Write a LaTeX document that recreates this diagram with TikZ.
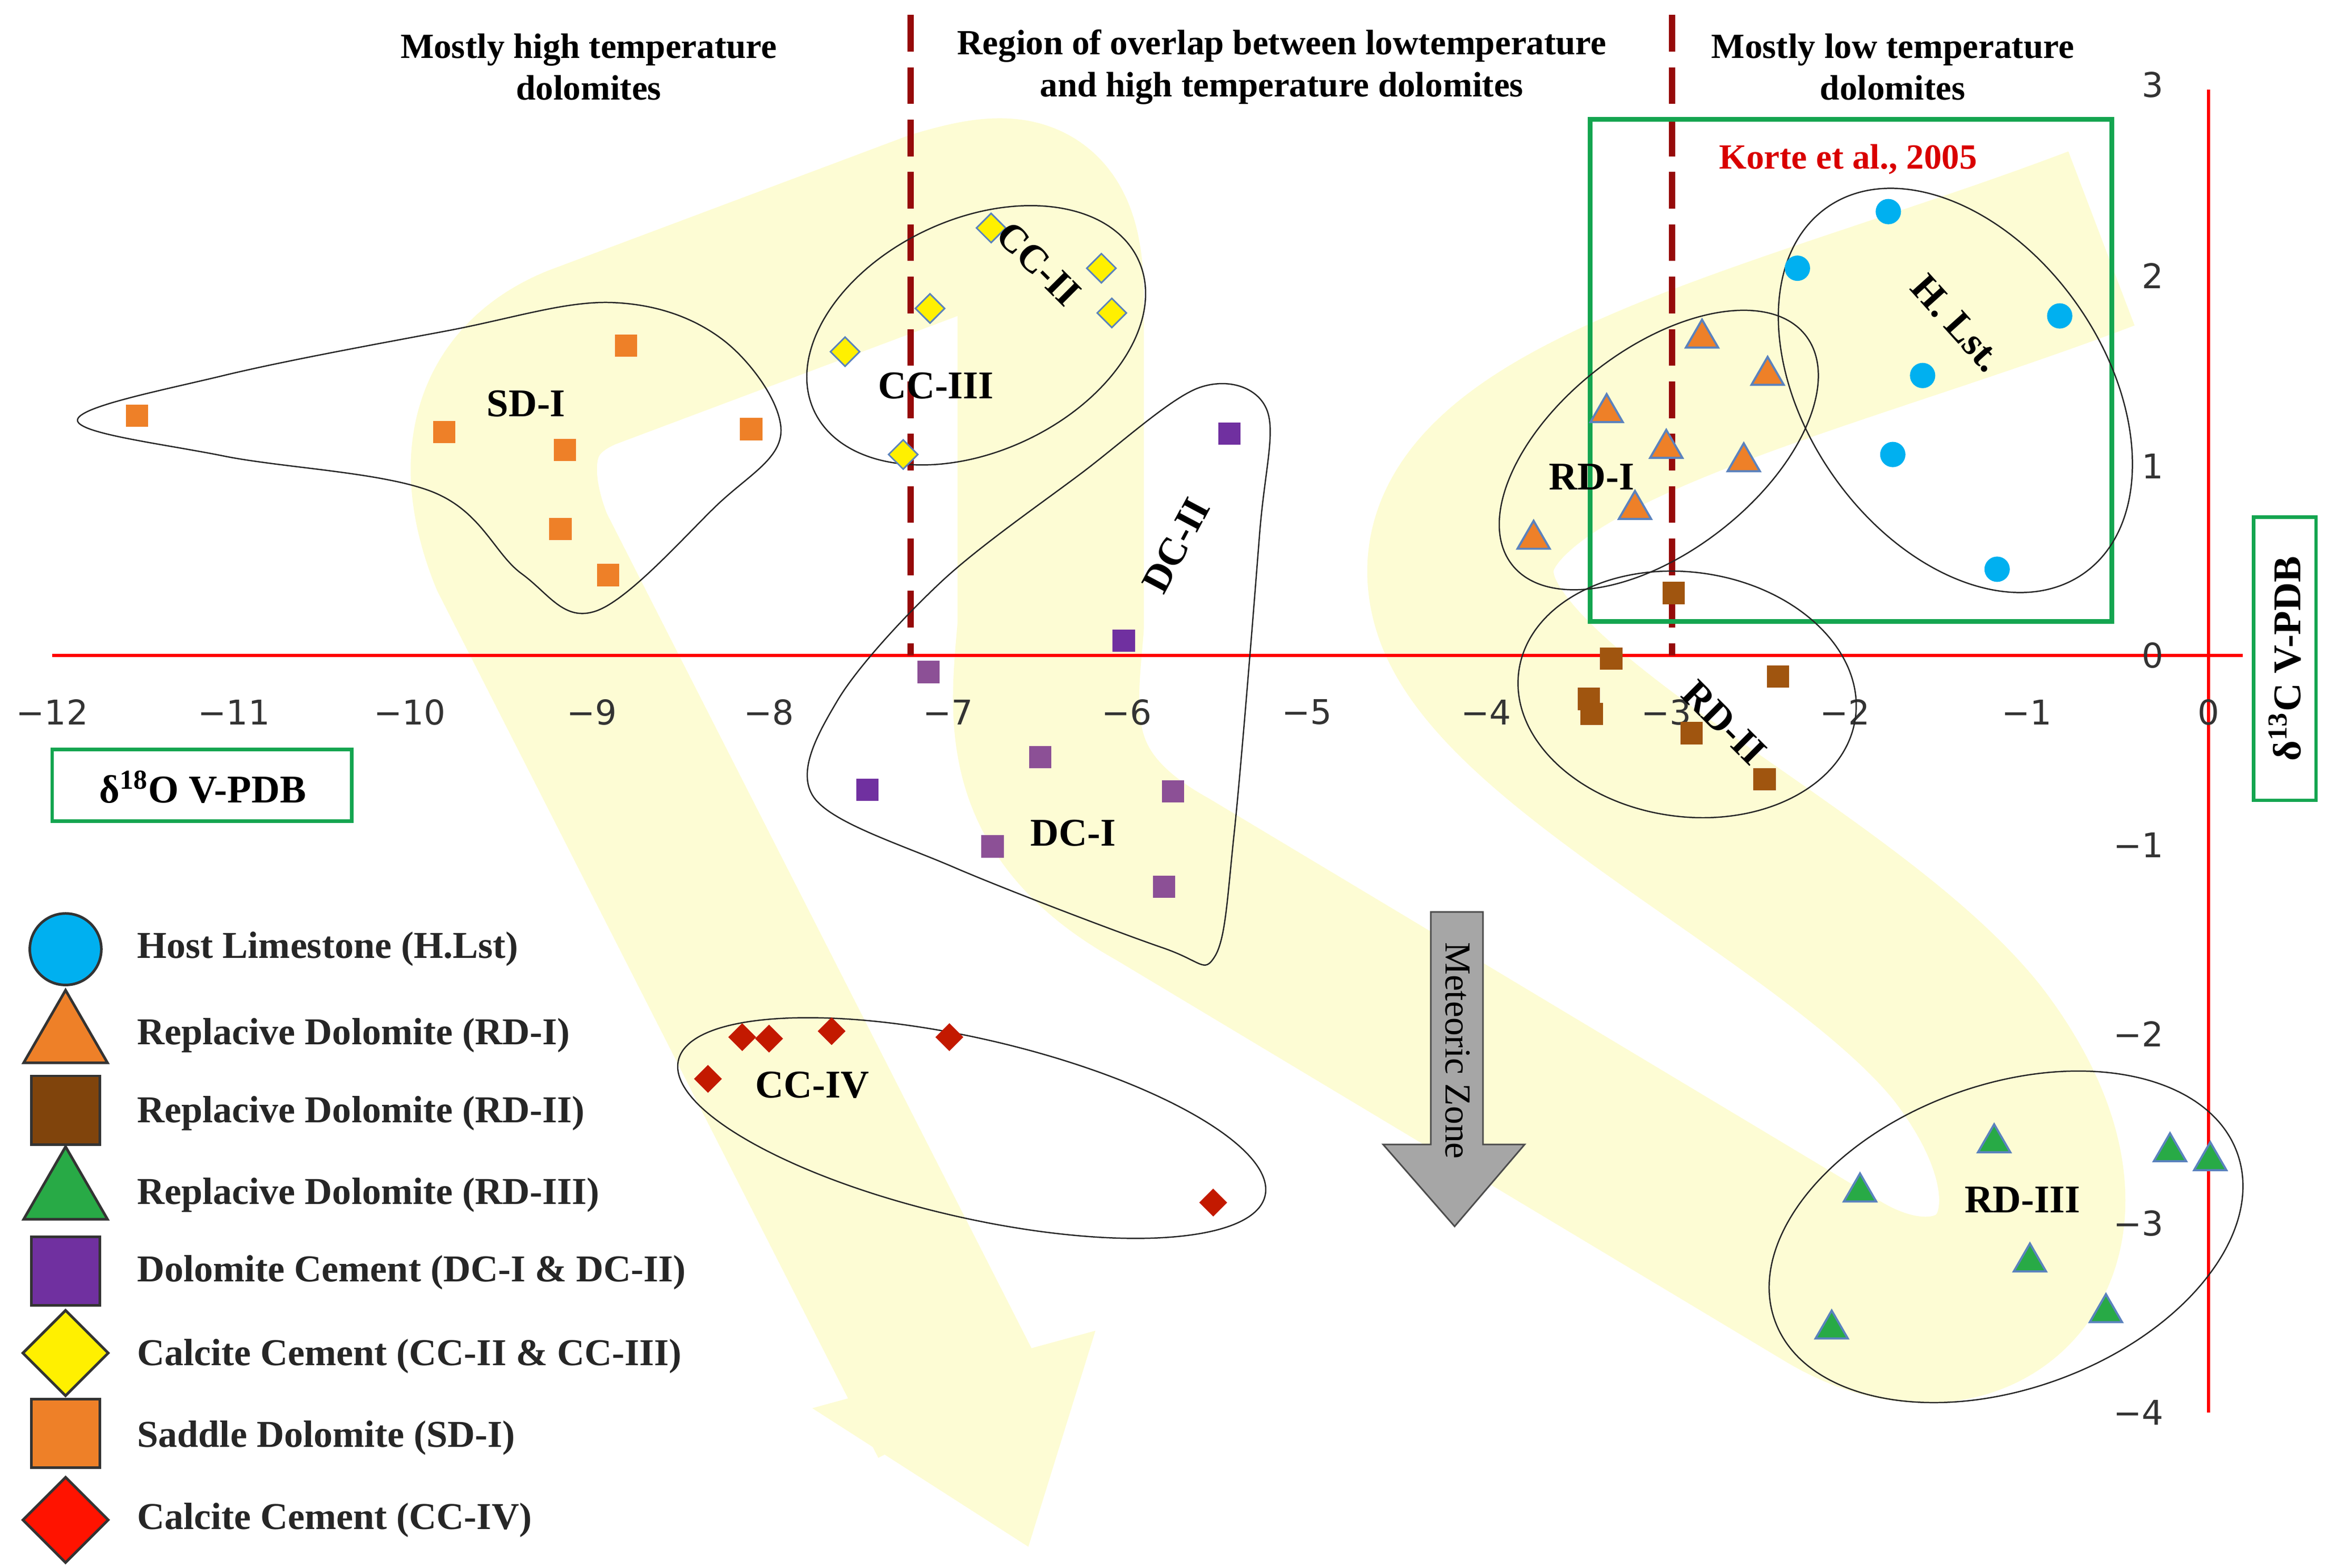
\documentclass[tikz,border=0pt]{standalone}
\usepackage{fontspec}
\setmainfont{Liberation Serif}
\newfontfamily\sansf{DejaVu Sans}
\usetikzlibrary{shapes.geometric}
\definecolor{band}{RGB}{253,252,212}
\definecolor{dred}{RGB}{150,10,10}
\definecolor{gbox}{RGB}{20,165,80}
\definecolor{orng}{RGB}{238,128,40}
\definecolor{ylw}{RGB}{255,240,0}
\definecolor{bdr}{RGB}{90,130,190}
\definecolor{purA}{RGB}{112,48,160}
\definecolor{purB}{RGB}{140,80,150}
\definecolor{brn}{RGB}{160,85,15}
\definecolor{redd}{RGB}{195,25,0}
\definecolor{blu}{RGB}{0,176,240}
\definecolor{grn}{RGB}{40,170,70}
\tikzset{
 sq/.style={rectangle,minimum size=0.3cm,inner sep=0,draw=none},
 dia/.style={diamond,minimum size=0.4cm,inner sep=0,fill=ylw,draw=bdr,line width=0.6pt},
 rdia/.style={diamond,minimum size=0.38cm,inner sep=0,fill=redd},
 tri/.style={regular polygon,regular polygon sides=3,minimum size=0.5cm,inner sep=0,draw=bdr,line width=0.8pt},
 circ/.style={circle,minimum size=0.34cm,inner sep=0,fill=blu},
 grp/.style={draw=black!85,line width=0.5pt},
 lab/.style={font=\fontsize{15}{15}\selectfont\bfseries},
 leg/.style={font=\fontsize{14.5}{15}\selectfont\bfseries,anchor=west,text=black!85},
 head/.style={font=\fontsize{13.5}{16}\selectfont\bfseries,align=center},
 tk/.style={font=\sansf\fontsize{13}{13}\selectfont,text=black!80},
}
\begin{document}
\begin{tikzpicture}[x=0.02cm,y=-0.02cm]
\useasboundingbox (0,0) rectangle (1560,1052);
% yellow serpentine band
\draw[band,line width=2.5cm,line join=round]
 (1410,160) .. controls (1200,240) and (940,290) .. (985,410)
 .. controls (1020,500) and (1240,600) .. (1320,700)
 .. controls (1420,830) and (1330,920) .. (1230,860)
 -- (780,590) .. controls (690,540) and (700,480) .. (705,420)
 -- (705,200) .. controls (705,135) and (680,135) .. (630,150)
 -- (390,240) .. controls (330,265) and (330,320) .. (350,370)
 -- (645,950);
\fill[band] (545,945) -- (735,893) -- (690,1038) -- cycle;
% axes
\draw[red,line width=1.2pt] (35,440) -- (1505,440);
\draw[red,line width=1.2pt] (1482,60) -- (1482,948);
\foreach \v/\xx in {−12/35,−11/157,−10/275,−9/397,−8/516,−7/636,−6/756,−5/877,−4/997,−3/1118,−2/1238,−1/1360,0/1482}
  \node[tk] (xt\xx) at (\xx,478) {\v};
\foreach \v/\yy in {3/57,2/185,1/313,0/440,−1/567,−2/694,−3/821,−4/948}
  \node[tk,anchor=east] (yt\yy) at (1458,\yy) {\v};
% dashed lines
\draw[dred,line width=2.4pt,dash pattern=on 14pt off 6pt] (611,10) -- (611,440);
\draw[dred,line width=2.4pt,dash pattern=on 14pt off 6pt] (1122,10) -- (1122,440);
% headers
\node[head] (h1) at (395,45) {Mostly high temperature\\dolomites};
\node[head] (h2) at (860,45) {Region of overlap between lowtemperature\\and high temperature dolomites};
\node[head] (h3) at (1270,45) {Mostly low temperature\\dolomites};
% boxes
\draw[gbox,line width=1.8pt] (1067,80) rectangle (1417,417);
\node[font=\fontsize{13.5}{14}\selectfont\bfseries,text=red!85!black] (korte) at (1240,107) {Korte et al., 2005};
\draw[gbox,line width=1.3pt] (1512,347) rectangle (1554,537);
\node[lab,rotate=90] (ylab) at (1533,442) {δ\textsuperscript{13}C V-PDB};
\draw[gbox,line width=1.3pt] (35,503) rectangle (236,551);
\node[lab] (xlab) at (136,528) {δ\textsuperscript{18}O V-PDB};
% group outlines
\draw[grp] plot[smooth cycle,tension=0.6] coordinates {(52,282) (150,252) (300,222) (410,203) (485,228) (524,290) (480,340) (400,410) (350,385) (290,330) (150,306)};
\draw[grp,rotate around={25:(655,225)}] (655,225) ellipse (120 and 78);
\draw[grp] plot[smooth cycle,tension=0.55] coordinates {(805,260) (850,275) (845,360) (828,560) (815,642) (780,636) (640,582) (546,535) (562,470) (632,390) (725,318)};
\draw[grp,rotate around={38:(1113,302)}] (1113,302) ellipse (125 and 68);
\draw[grp,rotate around={-55:(1312,262)}] (1312,262) ellipse (150 and 100);
\draw[grp,rotate around={-8:(1132,466)}] (1132,466) ellipse (114 and 82);
\draw[grp,rotate around={-13:(652,757)}] (652,757) ellipse (202 and 60);
\draw[grp,rotate around={20:(1346,830)}] (1346,830) ellipse (165 and 102);
% markers
\foreach \p [count=\i] in {(92,279),(298,290),(379,302),(420,232),(376,355),(408,386),(504,288)}
  \node[sq,fill=orng] (sd\i) at \p {};
\foreach \p [count=\i] in {(665,153),(739,180),(746,210),(624,207),(567,236),(606,305)}
  \node[dia] (cc\i) at \p {};
\foreach \p [count=\i] in {(825,291),(754,430),(582,530)}
  \node[sq,fill=purA] (dca\i) at \p {};
\foreach \p [count=\i] in {(623,451),(698,508),(787,531),(666,568),(781,595)}
  \node[sq,fill=purB] (dcb\i) at \p {};
\foreach \p [count=\i] in {(1142,227),(1186,252),(1078,277),(1118,301),(1170,310),(1097,342),(1029,362)}
  \node[tri,fill=orng] (rda\i) at \p {};
\foreach \p [count=\i] in {(1267,142),(1206,180),(1382,212),(1290,252),(1270,305),(1340,382)}
  \node[circ] (hl\i) at \p {};
\foreach \p [count=\i] in {(1123,398),(1081,442),(1066,469),(1068,479),(1193,454),(1135,492),(1184,523)}
  \node[sq,fill=brn] (rdb\i) at \p {};
\foreach \p [count=\i] in {(498,696),(516,697),(558,692),(637,696),(475,724),(814,807)}
  \node[rdia] (cv\i) at \p {};
\foreach \p [count=\i] in {(1338,767),(1248,800),(1456,773),(1483,779),(1362,847),(1229,892),(1413,881)}
  \node[tri,fill=grn] (rdc\i) at \p {};
% group labels
\node[lab] (lsd) at (353,271) {SD-I};
\node[lab] (lcc3) at (628,259) {CC-III};
\node[lab,rotate=-45] (lcc2) at (697,177) {CC-II};
\node[lab,rotate=62] (ldc2) at (789,366) {DC-II};
\node[lab] (ldc1) at (720,559) {DC-I};
\node[lab] (lrd1) at (1068,320) {RD-I};
\node[lab,rotate=-48] (lhl) at (1313,217) {H. Lst.};
\node[lab,rotate=-45] (lrd2) at (1157,485) {RD-II};
\node[lab] (lcc4) at (545,728) {CC-IV};
\node[lab] (lrd3) at (1357,805) {RD-III};
% meteoric arrow
\draw[draw=black!70,fill=black!35,line width=0.6pt] (960,612) -- (995,612) -- (995,768) -- (1023,768) -- (976,823) -- (928,768) -- (960,768) -- cycle;
\node[font=\fontsize{14}{14}\selectfont,rotate=-90] (mett) at (978,705) {Meteoric Zone};
% legend
\node[circle,minimum size=0.96cm,inner sep=0,fill=blu,draw=black!80,line width=1pt] (k1) at (44,637) {};
\node[regular polygon,regular polygon sides=3,minimum size=1.3cm,inner sep=0,fill=orng,draw=black!80,line width=1pt] (k2) at (44,697) {};
\node[rectangle,minimum size=0.92cm,inner sep=0,fill=brn!80!black,draw=black!80,line width=1pt] (k3) at (44,745) {};
\node[regular polygon,regular polygon sides=3,minimum size=1.3cm,inner sep=0,fill=grn,draw=black!80,line width=1pt] (k4) at (44,802) {};
\node[rectangle,minimum size=0.92cm,inner sep=0,fill=purA,draw=black!80,line width=1pt] (k5) at (44,853) {};
\node[diamond,minimum size=1.16cm,inner sep=0,fill=ylw,draw=black!80,line width=1pt] (k6) at (44,908) {};
\node[rectangle,minimum size=0.92cm,inner sep=0,fill=orng,draw=black!80,line width=1pt] (k7) at (44,962) {};
\node[diamond,minimum size=1.16cm,inner sep=0,fill=red!85!orange,draw=black!80,line width=1pt] (k8) at (44,1020) {};
\node[leg] (t1) at (86,637) {Host Limestone (H.Lst)};
\node[leg] (t2) at (86,695) {Replacive Dolomite (RD-I)};
\node[leg] (t3) at (86,747) {Replacive Dolomite (RD-II)};
\node[leg] (t4) at (86,802) {Replacive Dolomite (RD-III)};
\node[leg] (t5) at (86,854) {Dolomite Cement (DC-I \& DC-II)};
\node[leg] (t6) at (86,910) {Calcite Cement (CC-II \& CC-III)};
\node[leg] (t7) at (86,965) {Saddle Dolomite (SD-I)};
\node[leg] (t8) at (86,1020) {Calcite Cement (CC-IV)};
\end{tikzpicture}
\end{document}
